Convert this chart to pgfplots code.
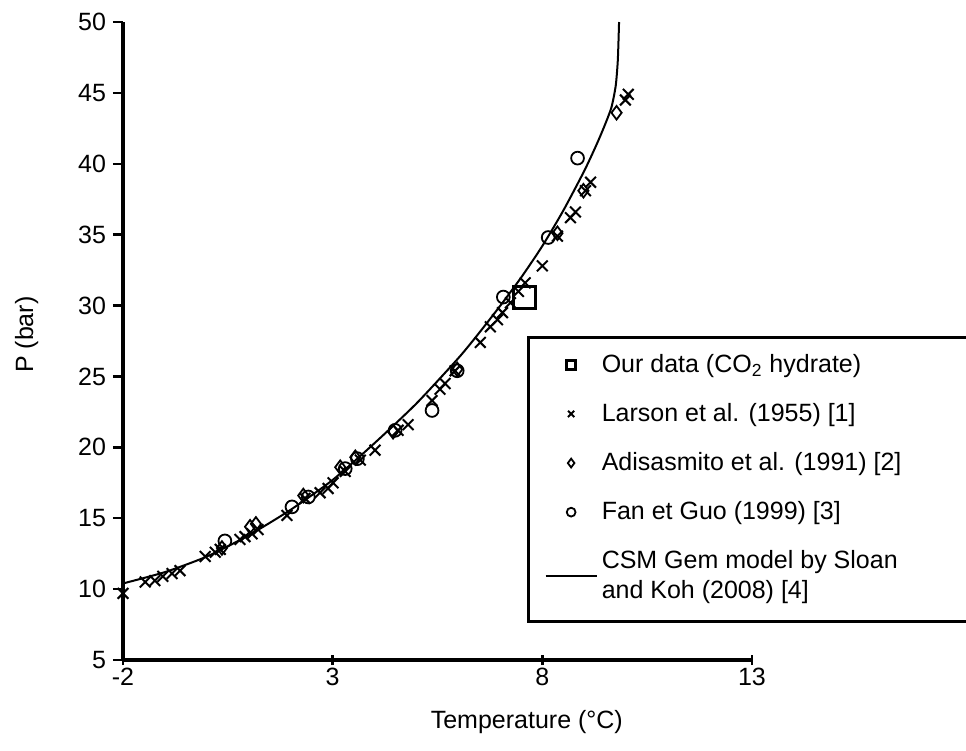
\documentclass[border=0pt]{standalone}
\usepackage{fontspec}
\setmainfont{Liberation Sans}
\usepackage{pgfplots}
\pgfplotsset{compat=1.18}
\pgfplotsset{longline legend/.style={legend image code/.code={\draw[#1] (-0.15cm,0cm) -- (0.75cm,0cm);}}}

\begin{document}
\begin{tikzpicture}
  \begin{axis}[
      scale only axis,
      width=314.5pt, height=319pt,
      xmin=-2, xmax=13, ymin=5, ymax=50,
      axis lines=left,
      axis line style={-, line width=2pt},
      xtick={-2,3,8,13}, xticklabels={-2,3,8,13},
      ytick={5,10,...,50}, yticklabels={5,10,15,20,25,30,35,40,45,50},
      xtick align=center, ytick align=outside,
      major tick length=5pt,
      tick style={line width=1.2pt, black},
      tick label style={font=\fontsize{12.5}{14}\selectfont},
      xticklabel style={yshift=2pt},
      xlabel={Temperature (°C)}, ylabel={P (bar)},
      label style={font=\fontsize{12.5}{14}\selectfont},
      xlabel style={at={(axis description cs:0.642,-0.097)}, anchor=center},
      ylabel style={at={(axis description cs:-0.153,0.51)}, anchor=center},
      clip=false,
      legend cell align=left,
      legend image post style={mark size=2.2pt},
      legend style={at={(0.66,0.078)}, anchor=south west,
                    draw=none, fill=none,
                    font=\fontsize{12.5}{15}\selectfont,
                    row sep=10pt},
    ]
    \coordinate (O) at (rel axis cs:0,0);
    \draw[line width=1.5pt] (rel axis cs:0.644,0.0596) rectangle (rel axis cs:1.40,0.505);
    % our data
    \addplot[only marks, mark=square, mark size=5.5pt, mark options={line width=1.5pt}, black]
      coordinates {(7.57,30.6)};
    \addlegendentry{Our data (CO\textsubscript{2} hydrate)}
    % Larson et al.
    \addplot[only marks, mark=x, mark size=3.8pt, mark options={line width=1pt}, black]
      coordinates {(-2.0,9.7) (-1.47,10.5) (-1.24,10.6) (-1.05,10.9) (-0.83,11.1) (-0.64,11.3)
                   (-0.04,12.3) (0.2,12.6) (0.32,12.8) (0.79,13.5) (0.91,13.7) (1.08,13.9)
                   (1.22,14.2) (1.91,15.2) (2.34,16.4) (2.70,16.8) (2.89,17.1) (3.01,17.5)
                   (3.30,18.3) (3.66,19.1) (4.01,19.8) (4.56,21.2) (4.80,21.6) (5.37,23.3)
                   (5.56,24.1) (5.68,24.5) (5.92,25.4) (6.52,27.4) (6.76,28.5) (6.93,29.0)
                   (7.05,29.5) (7.24,30.2) (7.43,31.0) (7.59,31.6) (8.0,32.8) (8.36,34.9)
                   (8.67,36.2) (8.79,36.6) (9.03,38.1) (9.15,38.7) (9.98,44.5) (10.05,44.9)};
    \addlegendentry{Larson et al. (1955) [1]}
    % Adisasmito et al.
    \addplot[only marks, mark=diamond, mark size=3.4pt, mark options={line width=0.9pt}, black]
      coordinates {(0.36,12.9) (1.03,14.4) (1.17,14.6) (2.30,16.6) (3.18,18.6) (3.54,19.3)
                   (4.44,21.1) (5.97,25.5) (8.36,35.1) (8.98,38.1) (9.77,43.6)};
    \addlegendentry{Adisasmito et al. (1991) [2]}
    % Fan et Guo
    \addplot[only marks, mark=o, mark size=3.2pt, mark options={line width=0.9pt}, black]
      coordinates {(0.43,13.4) (2.03,15.8) (2.42,16.5) (3.30,18.5) (3.59,19.2) (4.49,21.2)
                   (5.37,22.6) (5.97,25.4) (7.07,30.6) (8.14,34.8) (8.84,40.4)};
    \addlegendentry{Fan et Guo (1999) [3]}
    % CSM Gem model
    \addplot[black, line width=1pt, smooth, tension=0.4, longline legend]
      coordinates {(-2,10.4) (-1,11.2) (0,12.3) (1,13.8) (2,15.6) (3,17.7) (4,20.3)
                   (5,23.1) (6,26.3) (6.5,28.1) (7,30.0) (7.5,32.0) (8,34.2) (8.5,36.7)
                   (9,39.5) (9.3,41.4) (9.5,42.8) (9.65,44.0) (9.75,45.5) (9.8,47.3)
                   (9.83,50)};
    \addlegendentry[align=left]{CSM Gem model by Sloan\\and Koh (2008) [4]}
  \end{axis}
  \pgfresetboundingbox
  \path[use as bounding box] (O) ++(-61.5pt,-45.5pt) rectangle ++(483pt,375.5pt);
\end{tikzpicture}
\end{document}
